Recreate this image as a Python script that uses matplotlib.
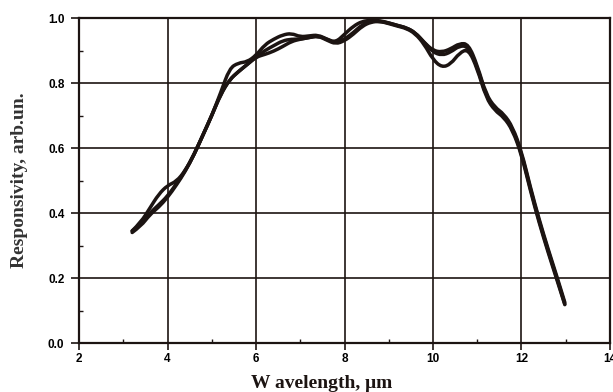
import matplotlib
matplotlib.use('Agg')
from matplotlib import pyplot as plt
from matplotlib.path import Path
from matplotlib.patches import PathPatch
from matplotlib.ticker import MultipleLocator


# Spectral response, three samples.
wavelength = [3.2, 3.4, 3.6, 3.8, 4.0, 4.2, 4.4, 4.6, 4.8, 5.0,
              5.2, 5.4, 5.6, 5.8, 6.0, 6.2, 6.4, 6.6, 6.8, 7.0,
              7.2, 7.4, 7.6, 7.8, 8.0, 8.2, 8.4, 8.6, 8.8, 9.0,
              9.2, 9.4, 9.6, 9.8, 10.0, 10.2, 10.4, 10.6, 10.8, 11.0,
              11.2, 11.4, 11.6, 11.8, 12.0, 12.2, 12.4, 12.6, 12.8, 12.98]

resp_1 = [0.345, 0.372, 0.415, 0.458, 0.485, 0.497, 0.53, 0.58, 0.64, 0.70,
          0.77, 0.845, 0.862, 0.865, 0.885, 0.918, 0.935, 0.948, 0.953, 0.942,
          0.945, 0.948, 0.935, 0.925, 0.95, 0.975, 0.99, 0.993, 0.992, 0.985,
          0.977, 0.97, 0.955, 0.925, 0.90, 0.895, 0.905, 0.922, 0.92, 0.855,
          0.765, 0.725, 0.705, 0.665, 0.59, 0.48, 0.38, 0.29, 0.205, 0.125]

resp_2 = [0.345, 0.365, 0.40, 0.425, 0.452, 0.49, 0.53, 0.58, 0.64, 0.70,
          0.765, 0.81, 0.835, 0.857, 0.88, 0.90, 0.915, 0.93, 0.935, 0.935,
          0.94, 0.945, 0.935, 0.922, 0.935, 0.955, 0.98, 0.99, 0.99, 0.985,
          0.977, 0.97, 0.955, 0.925, 0.895, 0.885, 0.895, 0.915, 0.912, 0.85,
          0.76, 0.72, 0.70, 0.66, 0.585, 0.475, 0.375, 0.285, 0.2, 0.12]

resp_3 = [0.34, 0.36, 0.395, 0.418, 0.448, 0.486, 0.528, 0.58, 0.64, 0.70,
          0.765, 0.81, 0.835, 0.857, 0.88, 0.888, 0.898, 0.912, 0.928, 0.935,
          0.94, 0.945, 0.932, 0.92, 0.93, 0.95, 0.975, 0.988, 0.99, 0.983,
          0.975, 0.968, 0.952, 0.92, 0.872, 0.848, 0.858, 0.893, 0.905, 0.845,
          0.755, 0.715, 0.695, 0.655, 0.58, 0.47, 0.37, 0.28, 0.195, 0.118]

ink = '#1c1412'


def smooth_path(xs, ys):
    # quadratic curve through the midpoints, control points at the data
    pts = list(zip(xs, ys))
    verts, codes = [pts[0]], [Path.MOVETO]
    for i in range(1, len(pts) - 1):
        mid = ((pts[i][0] + pts[i + 1][0]) / 2, (pts[i][1] + pts[i + 1][1]) / 2)
        verts += [pts[i], mid]
        codes += [Path.CURVE3, Path.CURVE3]
    verts.append(pts[-1])
    codes.append(Path.LINETO)
    return Path(verts, codes)


fig = plt.figure(figsize=(6.13, 3.92), dpi=100)
ax = fig.add_axes([0.129, 0.125, 0.866, 0.829])

for r in (resp_1, resp_2, resp_3):
    ax.add_patch(PathPatch(smooth_path(wavelength, r), fill=False,
                           edgecolor=ink, lw=2.5, capstyle='round', zorder=3))

ax.set_xlim(2, 14)
ax.set_ylim(0, 1.0)
ax.xaxis.set_major_locator(MultipleLocator(2))
ax.xaxis.set_minor_locator(MultipleLocator(1))
ax.yaxis.set_major_locator(MultipleLocator(0.2))
ax.yaxis.set_minor_locator(MultipleLocator(0.1))
ax.yaxis.set_major_formatter(plt.FuncFormatter(lambda v, p: f'{v:.1f}'))

ax.grid(True, which='major', color=ink, lw=1.2)
for s in ax.spines.values():
    s.set_color(ink)
    s.set_linewidth(1.6)

ax.tick_params(which='major', direction='out', width=1.2, color=ink, labelsize=8.5)
ax.tick_params(which='minor', direction='in', length=3, width=1.0, color=ink)
ax.tick_params(axis='x', which='major', length=5, pad=2)
ax.tick_params(axis='y', which='major', length=6, pad=4.5)
for lab in ax.get_xticklabels() + ax.get_yticklabels():
    lab.set_fontfamily('Liberation Sans')
    lab.set_fontweight('bold')

fig.text(322 / 613, 1 - 384 / 392, 'W avelength, \u03bcm', ha='center', va='center',
         fontsize=14, fontweight='bold', family='Liberation Serif', color=ink)
fig.text(20 / 613, 1 - 180 / 392, 'Responsivity, arb.un.', ha='center', va='center',
         rotation=90, fontsize=14, fontweight='bold', family='Liberation Serif',
         color='#333333')

fig.savefig('out.png', dpi=100)
